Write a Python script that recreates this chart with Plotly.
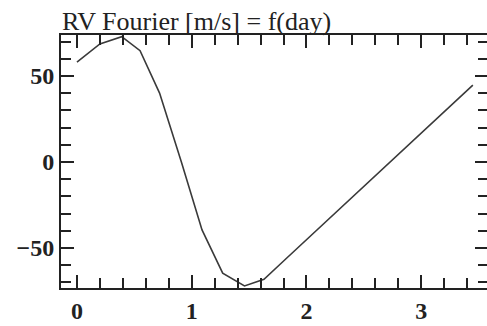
import plotly.graph_objects as go

# Fourier fit of the radial velocity, sampled against time in days
days = [0.0, 0.2, 0.39, 0.55, 0.72, 0.91, 1.09, 1.27, 1.46, 1.63,
        1.81, 1.99, 2.17, 2.36, 2.54, 2.72, 2.90, 3.08, 3.27, 3.45]
rv_fourier = [58.0, 68.6, 72.8, 64.7, 40.0, 0.0, -39.5, -64.7, -72.1, -68.2,
              -57.0, -45.8, -34.7, -22.9, -11.7, -0.6, 10.6, 21.7, 33.5, 44.7]

x_ticks = [0, 1, 2, 3]
y_ticks = [-50, 0, 50]
title_text = "RV Fourier [m/s] = f(day)"

serif = "Liberation Serif, Times New Roman, serif"

fig = go.Figure(
    go.Scatter(
        x=days, y=rv_fourier, mode="lines",
        line=dict(color="#3a3a3a", width=1.6),
        hoverinfo="skip",
    )
)

axis_common = dict(
    showgrid=False, zeroline=False,
    showline=True, linecolor="#222", linewidth=2,
    mirror="allticks", ticks="inside", ticklen=13, tickwidth=2,
    tickcolor="#222",
    tickfont=dict(family=serif, size=24, color="#222", weight="bold"),
)

fig.update_xaxes(
    range=[-0.139, 3.582], tickvals=x_ticks,
    minor=dict(dtick=0.2, tick0=0, ticks="inside", ticklen=10,
               tickwidth=2, tickcolor="#222"),
    **axis_common,
)
fig.update_yaxes(
    range=[-73.3, 73.8], tickvals=y_ticks,
    minor=dict(dtick=10, tick0=0, ticks="inside", ticklen=10,
               tickwidth=2, tickcolor="#222"),
    **axis_common,
)

fig.add_annotation(
    text=title_text, xref="paper", yref="paper", x=0, y=1,
    xanchor="left", yanchor="bottom", showarrow=False, yshift=-3, xshift=-1,
    font=dict(family=serif, size=26, color="#222"),
)

# the right-hand frame sits just past the page edge
fig.update_layout(
    width=490, height=326,
    margin=dict(l=61, r=0, t=35, b=38),
    paper_bgcolor="white", plot_bgcolor="white",
    showlegend=False,
)

fig.write_html(
    "out.html",
    post_script="document.documentElement.style.overflow='hidden';"
                "document.body.style.overflow='hidden';",
)
